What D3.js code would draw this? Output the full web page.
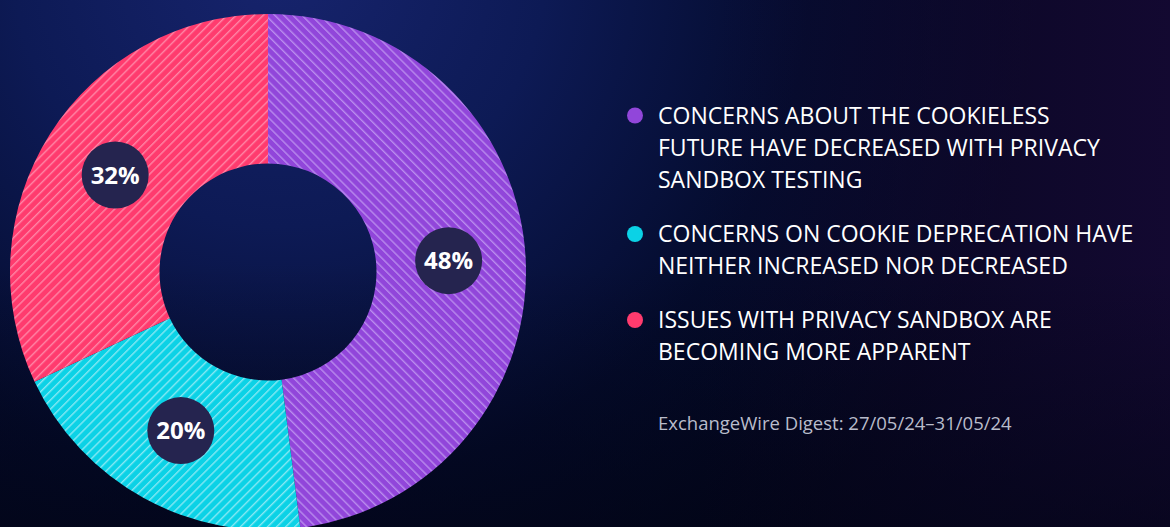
<!DOCTYPE html>
<html>
<head>
<meta charset="utf-8">
<script src="https://cdn.jsdelivr.net/npm/d3@7"></script>
<style>
  html, body { margin: 0; padding: 0; background: #050a2a; }
  svg { display: block; }
</style>
</head>
<body>
<svg id="chart" width="1170" height="527"></svg>
<script>
// Survey responses (share of respondents, %)
const categories = [
  "CONCERNS ABOUT THE COOKIELESS FUTURE HAVE DECREASED WITH PRIVACY SANDBOX TESTING",
  "CONCERNS ON COOKIE DEPRECATION HAVE NEITHER INCREASED NOR DECREASED",
  "ISSUES WITH PRIVACY SANDBOX ARE BECOMING MORE APPARENT"
];
const legendLines = [
  ["CONCERNS ABOUT THE COOKIELESS", "FUTURE HAVE DECREASED WITH PRIVACY", "SANDBOX TESTING"],
  ["CONCERNS ON COOKIE DEPRECATION HAVE", "NEITHER INCREASED NOR DECREASED"],
  ["ISSUES WITH PRIVACY SANDBOX ARE", "BECOMING MORE APPARENT"]
];
const values = [48, 20, 32];
const sliceColors = ["#9146da", "#0bd2e6", "#ff3b6e"];
const stripeColors = ["#b98ced", "#86e8f3", "#ff86a6"];
const stripeAngles = [-45, 45, 45];
const sourceNote = "ExchangeWire Digest: 27/05/24\u201331/05/24";

const W = 1170, H = 527;
const svg = d3.select("#chart");
const defs = svg.append("defs");

// Background: deep navy with a blue glow at the top left
const bg = defs.append("radialGradient").attr("id", "bgGlow")
  .attr("gradientUnits", "userSpaceOnUse")
  .attr("cx", 280).attr("cy", -40).attr("r", 760);
bg.append("stop").attr("offset", "0").attr("stop-color", "#17246e");
bg.append("stop").attr("offset", "0.35").attr("stop-color", "#0d1a55");
bg.append("stop").attr("offset", "0.7").attr("stop-color", "#040b2c");
bg.append("stop").attr("offset", "1").attr("stop-color", "#03061c");
svg.append("rect").attr("width", W).attr("height", H).attr("fill", "url(#bgGlow)");

const tint = defs.append("linearGradient").attr("id", "rightTint")
  .attr("x1", "0").attr("x2", "1").attr("y1", "0").attr("y2", "0");
tint.append("stop").attr("offset", "0.6").attr("stop-color", "#1a0a3a").attr("stop-opacity", 0);
tint.append("stop").attr("offset", "1").attr("stop-color", "#1a0a3a").attr("stop-opacity", 0.7);
svg.append("rect").attr("width", W).attr("height", H).attr("fill", "url(#rightTint)");

const bottomShade = defs.append("linearGradient").attr("id", "bottomShade")
  .attr("x1", "0").attr("x2", "0").attr("y1", "0").attr("y2", "1");
bottomShade.append("stop").attr("offset", "0.5").attr("stop-color", "#020414").attr("stop-opacity", 0);
bottomShade.append("stop").attr("offset", "1").attr("stop-color", "#020414").attr("stop-opacity", 0.6);
svg.append("rect").attr("width", W).attr("height", H).attr("fill", "url(#bottomShade)");

// Hatched fills for each slice
values.forEach((v, i) => {
  const p = defs.append("pattern").attr("id", "hatch" + i)
    .attr("patternUnits", "userSpaceOnUse")
    .attr("width", 6.4).attr("height", 6.4)
    .attr("patternTransform", `rotate(${stripeAngles[i]})`);
  p.append("rect").attr("width", 6.4).attr("height", 6.4).attr("fill", sliceColors[i]);
  p.append("rect").attr("x", 0).attr("y", 0).attr("width", 1.4).attr("height", 6.4)
    .attr("fill", stripeColors[i]);
});

const cx = 268, cy = 272, outerR = 258, innerR = 108.5, labelR = 181;
const g = svg.append("g").attr("transform", `translate(${cx},${cy})`);

const pie = d3.pie().value(d => d).sort(null);
const arcs = pie(values);
const arc = d3.arc().innerRadius(innerR).outerRadius(outerR);
const labelArc = d3.arc().innerRadius(labelR).outerRadius(labelR);

g.selectAll("path.slice").data(arcs).join("path")
  .attr("class", "slice")
  .attr("d", arc)
  .attr("fill", (d, i) => `url(#hatch${i})`);

const lbl = g.selectAll("g.lbl").data(arcs).join("g")
  .attr("class", "lbl")
  .attr("transform", d => `translate(${labelArc.centroid(d)})`);
lbl.append("circle").attr("r", 33.5).attr("fill", "#25244f");
lbl.append("text")
  .attr("text-anchor", "middle").attr("dy", "0.36em")
  .attr("fill", "#ffffff")
  .attr("font-family", "'Open Sans', sans-serif")
  .attr("font-weight", 700).attr("font-size", 24)
  .text(d => d.data + "%");

// Legend
const legendBaselines = [[123.5, 156, 188], [242, 274], [328, 360]];
const legend = svg.append("g");
legendLines.forEach((lines, i) => {
  legend.append("circle")
    .attr("cx", 635).attr("cy", legendBaselines[i][0] - 8)
    .attr("r", 8).attr("fill", sliceColors[i]);
  const t = legend.append("text")
    .attr("fill", "#ffffff")
    .attr("font-family", "'Open Sans', sans-serif")
    .attr("font-size", 23);
  lines.forEach((line, j) => {
    t.append("tspan").attr("x", 658).attr("y", legendBaselines[i][j]).text(line);
  });
});

svg.append("text")
  .attr("x", 658).attr("y", 430)
  .attr("fill", "#b9bccb")
  .attr("font-family", "'Open Sans', sans-serif")
  .attr("font-size", 18.5)
  .text(sourceNote);
</script>
</body>
</html>
